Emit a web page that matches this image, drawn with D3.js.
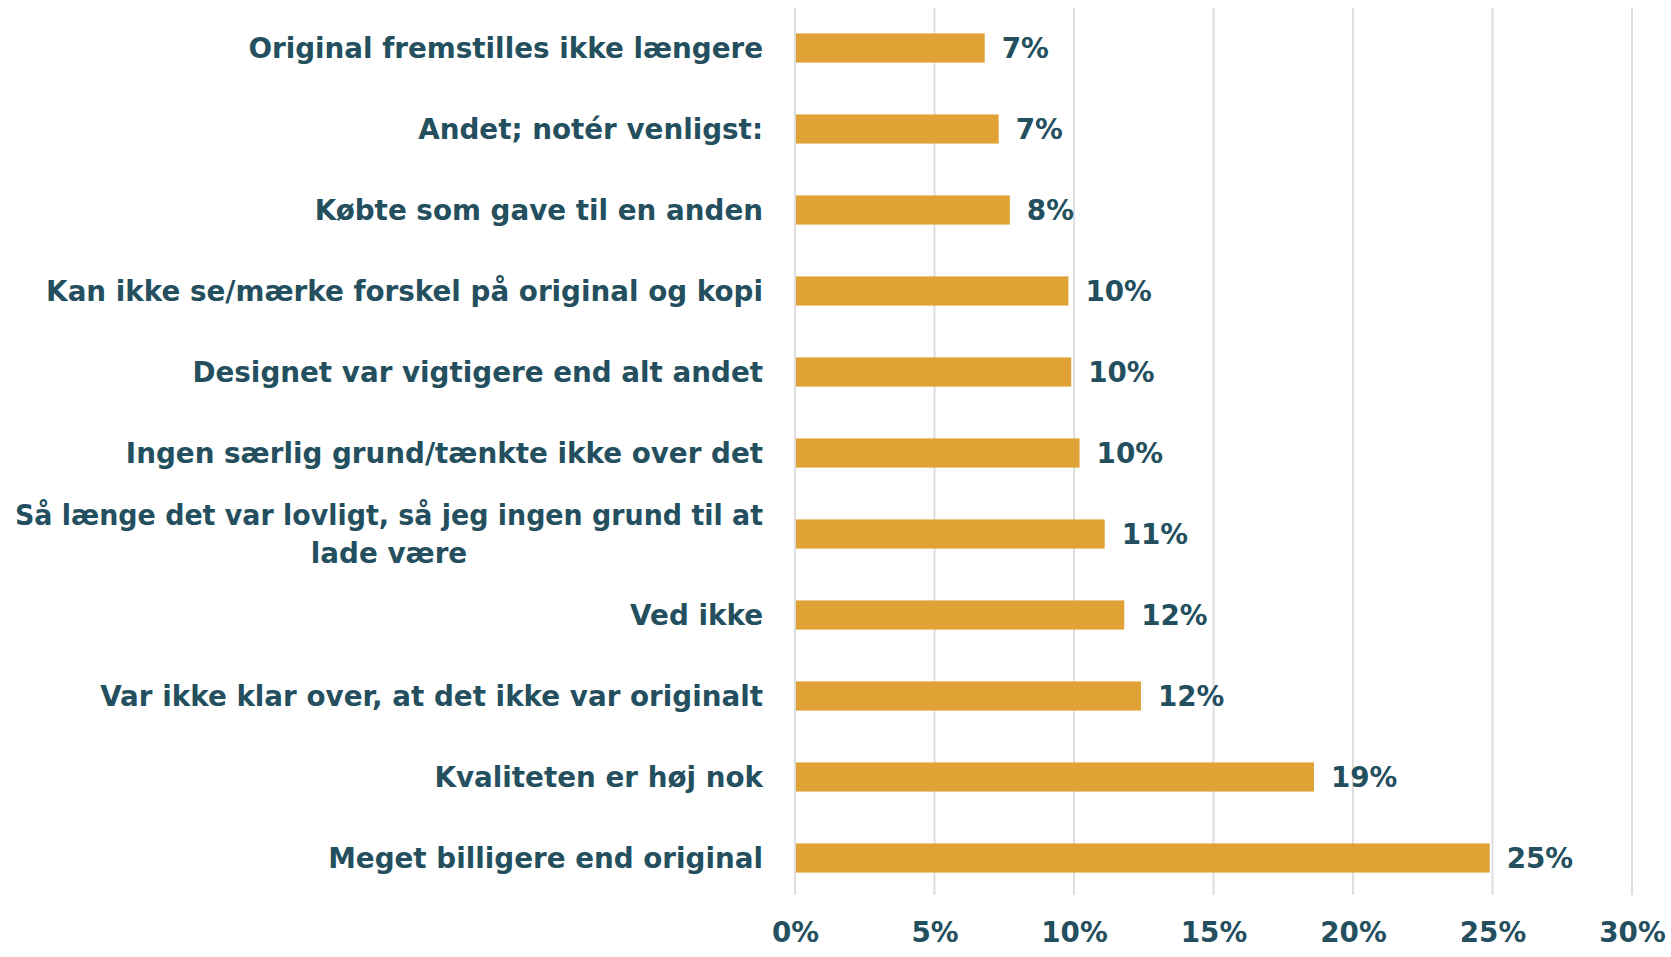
<!DOCTYPE html>
<html>
<head>
<meta charset="utf-8">
<script src="https://cdn.jsdelivr.net/npm/d3@7"></script>
<style>
  html, body { margin: 0; padding: 0; background: #fff; }
  svg { display: block; }
  text { font-family: "DejaVu Sans", "Open Sans", sans-serif; font-weight: 700; fill: #244f5e; }
</style>
</head>
<body>
<svg id="chart" width="1671" height="957"></svg>
<script>
const categories = [
  ["Original fremstilles ikke længere"],
  ["Andet; notér venligst:"],
  ["Købte som gave til en anden"],
  ["Kan ikke se/mærke forskel på original og kopi"],
  ["Designet var vigtigere end alt andet"],
  ["Ingen særlig grund/tænkte ikke over det"],
  ["Så længe det var lovligt, så jeg ingen grund til at", "lade være"],
  ["Ved ikke"],
  ["Var ikke klar over, at det ikke var originalt"],
  ["Kvaliteten er høj nok"],
  ["Meget billigere end original"]
];
const values = [6.8, 7.3, 7.7, 9.8, 9.9, 10.2, 11.1, 11.8, 12.4, 18.6, 24.9];
const tickValues = [0, 5, 10, 15, 20, 25, 30];

const svg = d3.select("#chart");
const x0 = 795, x1 = 1632;

// fit font size so the longest single-line label spans the same width as in the reference
const probe = svg.append("text").attr("font-size", 27).text(categories[3][0]);
const probeW = probe.node().getComputedTextLength();
probe.remove();
const fontSize = 27 * 717 / probeW;

const x = d3.scaleLinear().domain([0, 30]).range([x0, x1]);
const y = d3.scaleBand()
  .domain(d3.range(categories.length))
  .range([7.5, 898.5])
  .paddingInner(0.64)
  .paddingOuter(0.32);

// gridlines
svg.append("g").selectAll("line")
  .data(tickValues)
  .join("line")
  .attr("x1", d => x(d)).attr("x2", d => x(d))
  .attr("y1", 8).attr("y2", 895)
  .attr("stroke", "#dedede")
  .attr("stroke-width", 2);

// bars
svg.append("g").selectAll("rect")
  .data(values)
  .join("rect")
  .attr("x", x(0) + 1)
  .attr("y", (d, i) => y(i))
  .attr("width", d => x(d) - x(0) - 1)
  .attr("height", y.bandwidth())
  .attr("fill", "#e0a234");

// value labels
svg.append("g").selectAll("text")
  .data(values)
  .join("text")
  .attr("x", d => x(d) + 17)
  .attr("y", (d, i) => y(i) + y.bandwidth() / 2)
  .attr("dy", "0.36em")
  .attr("font-size", fontSize)
  .text(d => d3.format(".0f")(d) + "%");

// category labels
const labelRight = 763;
const maxLineW = 748;
const lineH = 38;
categories.forEach((lines, i) => {
  const cy = y(i) + y.bandwidth() / 2;
  const g = svg.append("g");
  if (lines.length === 1) {
    g.append("text")
      .attr("x", labelRight)
      .attr("y", cy)
      .attr("dy", "0.36em")
      .attr("text-anchor", "end")
      .attr("font-size", fontSize)
      .text(lines[0]);
  } else {
    const t0 = g.append("text")
      .attr("font-size", fontSize)
      .attr("text-anchor", "middle")
      .text(lines[0]);
    let w = t0.node().getComputedTextLength();
    if (w > maxLineW) {
      t0.attr("textLength", maxLineW).attr("lengthAdjust", "spacingAndGlyphs");
      w = maxLineW;
    }
    const cx = labelRight - w / 2;
    const top = cy - (lines.length - 1) * lineH / 2;
    t0.attr("x", cx).attr("y", top).attr("dy", "0.36em");
    lines.slice(1).forEach((ln, k) => {
      g.append("text")
        .attr("font-size", fontSize)
        .attr("text-anchor", "middle")
        .attr("x", cx)
        .attr("y", top + (k + 1) * lineH)
        .attr("dy", "0.36em")
        .text(ln);
    });
  }
});

// x axis tick labels
const xAxis = d3.axisBottom(x).tickValues(tickValues).tickFormat(d => d + "%").tickSize(0);
const ax = svg.append("g").attr("transform", "translate(0,922)").call(xAxis);
ax.select(".domain").remove();
ax.selectAll("text")
  .attr("font-size", fontSize)
  .attr("font-family", null)
  .attr("fill", "#244f5e")
  .attr("dy", "0.71em")
  .attr("y", 0);
</script>
</body>
</html>
